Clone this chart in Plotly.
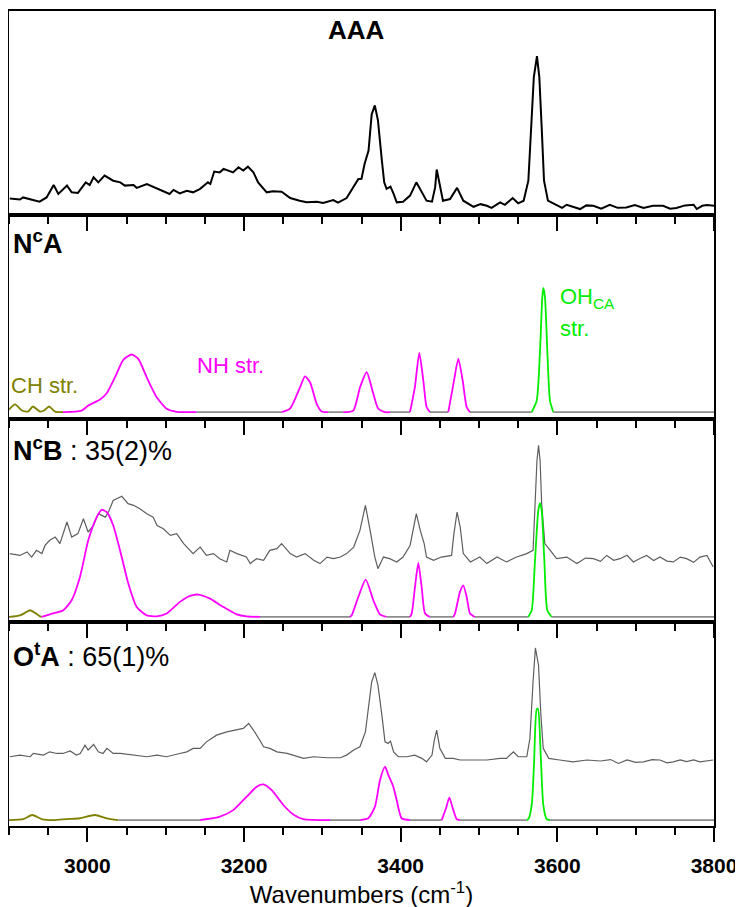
import plotly.graph_objects as go
from plotly.subplots import make_subplots

# ---------------- Panel 1: AAA experimental spectrum ----------------
aaa_wn = [2901, 2914, 2918, 2931, 2939, 2948, 2957, 2963, 2974, 2980, 2988, 2998, 3003, 3008, 3014,
          3022, 3033, 3042, 3048, 3059, 3063, 3076, 3088, 3097, 3105, 3110, 3118, 3127, 3135, 3144,
          3154, 3157, 3162, 3169, 3174, 3186, 3193, 3199, 3205, 3212, 3218, 3229, 3237, 3248, 3259,
          3271, 3280, 3293, 3301, 3314, 3320, 3331, 3339, 3346, 3350, 3354, 3359, 3363, 3367, 3371,
          3376, 3379, 3382, 3387, 3391, 3395, 3403, 3412, 3420, 3427, 3433, 3440, 3444, 3446, 3449,
          3454, 3463, 3472, 3480, 3493, 3502, 3510, 3516, 3523, 3527, 3533, 3543, 3550, 3557, 3563,
          3567, 3570, 3574, 3577, 3580, 3583, 3588, 3599, 3606, 3612, 3620, 3629, 3637, 3646, 3656,
          3667, 3677, 3688, 3699, 3710, 3722, 3735, 3744, 3752, 3763, 3774, 3778, 3785, 3791, 3800]
aaa_int = [8.0, 7.5, 8.5, 7.4, 6.4, 8.5, 14.6, 10.2, 14.3, 11.0, 10.7, 15.9, 14.6, 18.4, 15.9,
           19.2, 16.7, 15.9, 14.3, 14.6, 13.2, 15.1, 13.0, 11.3, 10.2, 12.2, 10.5, 11.8, 11.0, 12.7,
           15.9, 15.1, 21.2, 20.8, 22.5, 20.8, 23.3, 21.7, 23.6, 20.8, 15.9, 11.0, 11.5, 11.3, 8.2,
           6.9, 6.1, 6.4, 5.8, 7.2, 5.9, 8.2, 13.4, 17.6, 17.7, 25.0, 31.5, 49.3, 53.7, 46.3,
           26.6, 15.9, 12.7, 13.8, 10.2, 6.1, 6.4, 9.4, 15.9, 11.0, 6.9, 6.4, 13.4, 22.2, 15.9,
           6.9, 7.7, 13.2, 6.9, 3.9, 5.2, 4.4, 3.4, 4.9, 6.1, 4.9, 8.2, 5.6, 6.9, 16.7,
           43.0, 67.6, 77.8, 67.6, 43.0, 16.7, 6.9, 4.9, 3.4, 4.9, 3.9, 2.8, 4.6, 4.4, 3.0,
           4.9, 3.4, 3.6, 4.8, 3.3, 4.4, 4.4, 3.0, 3.3, 4.6, 4.9, 2.8, 4.4, 4.8, 4.4]

# ---------------- Panel 2: NcA calculated spectrum ----------------
nca_wn = [2900, 2907.7, 2916.6, 2924.3, 2930.6, 2939.6, 2944.7, 2951.1, 2958.7,
          2968.9, 2992.8, 3001.2, 3016.2, 3024.7, 3035.3, 3045.9, 3056.6, 3065.1, 3075.8, 3088.6, 3101.3, 3114.1,
          3139.6,
          3248.1, 3258.7, 3271.5, 3277.9, 3284.3, 3292.8, 3299.2,
          3307.6,
          3326.8, 3339.5, 3348.1, 3356.6, 3365.1, 3371.4, 3380.0,
          3386.4,
          3411.9, 3418.1, 3423.8, 3428.9, 3433.2,
          3437.5,
          3460.8, 3468.1, 3473.6, 3479.2, 3484.3,
          3488.5,
          3567.3, 3573.7, 3577.9, 3580.8, 3582.1, 3584.2, 3587.2, 3590.6,
          3594.9, 3800]
nca_int = [4.4, 6.9, 3.9, 3.4, 5.9, 3.4, 3.9, 5.9, 3.4,
           3.1, 3.9, 6.4, 9.3, 12.4, 20.2, 28.8, 31.4, 29.3, 20.2, 10.4, 4.8, 3.3,
           3.1,
           3.1, 4.8, 15.3, 20.7, 17.8, 7.2, 3.4,
           3.1,
           3.1, 3.9, 15.3, 22.7, 12.1, 4.8, 3.1,
           3.1,
           3.1, 15.3, 32.2, 18.6, 5.5,
           3.1,
           3.1, 18.6, 29.3, 18.6, 5.5,
           3.1,
           3.1, 8.8, 33.3, 59.5, 64.1, 59.5, 33.3, 8.8,
           3.1, 3.1]
nca_band = ["CH"] * 9 + ["NH"] * 13 + ["base"] + ["NH"] * 7 + ["base"] + ["NH"] * 7 + ["base"] + \
           ["NH"] * 5 + ["base"] + ["NH"] * 5 + ["base"] + ["OH"] * 8 + ["base", "base"]

# ---------------- Panel 3: NcB experimental + calculated ----------------
ncb_exp_wn = [2901, 2914, 2923, 2929, 2935, 2942, 2946, 2952, 2959, 2965, 2974, 2980, 2988, 2995, 3001,
              3008, 3014, 3023, 3027, 3033, 3044, 3052, 3059, 3067, 3076, 3084, 3089, 3097, 3106, 3114,
              3123, 3135, 3144, 3152, 3161, 3169, 3178, 3182, 3191, 3203, 3208, 3216, 3225, 3233, 3242,
              3248, 3259, 3267, 3278, 3289, 3297, 3306, 3314, 3323, 3331, 3340, 3348, 3355, 3361, 3367,
              3371, 3378, 3386, 3395, 3403, 3412, 3420, 3425, 3430, 3433, 3442, 3452, 3465, 3468, 3472,
              3476, 3480, 3489, 3501, 3510, 3523, 3535, 3548, 3561, 3569, 3572, 3574, 3576, 3578, 3580,
              3584, 3591, 3599, 3612, 3625, 3636, 3646, 3655, 3663, 3672, 3680, 3689, 3697, 3706, 3714,
              3723, 3731, 3740, 3748, 3757, 3765, 3774, 3782, 3791, 3799]
ncb_exp_int = [33.7, 32.8, 34.5, 32.0, 35.3, 33.7, 37.7, 40.2, 41.8, 38.6, 49.2, 41.8, 43.5, 50.8, 44.3,
               47.5, 53.3, 51.6, 54.1, 59.8, 61.8, 58.2, 57.4, 55.7, 53.3, 51.6, 47.5, 45.9, 42.6, 43.5,
               38.6, 33.7, 36.9, 32.8, 33.7, 31.2, 29.6, 35.3, 33.7, 32.0, 28.8, 31.2, 30.4, 35.3, 36.1,
               38.6, 33.7, 32.0, 33.7, 30.4, 28.8, 32.0, 31.2, 32.0, 33.7, 36.9, 45.1, 57.4, 45.1, 32.0,
               26.3, 32.0, 31.2, 29.6, 32.0, 37.7, 53.3, 45.1, 38.6, 32.0, 30.4, 32.0, 32.8, 43.5, 54.1,
               46.7, 33.7, 29.6, 32.0, 28.8, 32.0, 29.6, 32.0, 33.7, 35.3, 58.2, 79.4, 86.8, 79.4, 58.2,
               38.6, 35.3, 31.2, 32.0, 28.8, 31.5, 31.2, 29.9, 32.8, 30.4, 31.2, 32.9, 29.6, 31.4, 32.8,
               30.3, 32.0, 30.0, 29.6, 32.0, 31.2, 29.4, 32.0, 32.8, 27.1]

ncb_wn = [2900, 2914, 2920.4, 2926.8, 2933.2, 2939.6,
          2941.7, 2952.3, 2969.3, 2980, 2990.6, 3001.2, 3012, 3018.3, 3024.7, 3033.1, 3043.9, 3052.3, 3063,
          3075.8, 3088.6, 3101.3, 3118.3, 3131.1, 3141.7, 3156.6, 3173.6, 3190.7, 3203.4,
          3220.4,
          3335.3, 3337.5, 3345.9, 3355.4, 3365.1, 3373.6,
          3382.2,
          3411.9, 3414.1, 3418.3, 3422.5, 3426.8, 3431.1,
          3437.5,
          3467.2, 3469.4, 3475.7, 3479.9, 3484.3, 3488.5,
          3494.9,
          3562.9, 3567.3, 3571.5, 3575.7, 3577.9, 3580.0, 3583.4, 3587.2,
          3592.8, 3800]
ncb_int = [2.6, 3.4, 4.6, 5.9, 4.6, 2.9,
           2.6, 3.9, 5.9, 10.8, 22.2, 40.2, 51.6, 55.2, 54.1, 47.5, 32.0, 19.0, 7.5,
           3.4, 2.9, 4.3, 10.0, 12.9, 13.6, 11.6, 7.5, 3.9, 2.9,
           2.6,
           2.6, 3.4, 12.4, 20.9, 10.8, 3.9,
           2.6,
           2.6, 4.3, 17.3, 29.1, 17.3, 4.3,
           2.6,
           2.6, 4.3, 14.9, 18.1, 12.4, 4.3,
           2.6,
           2.6, 5.9, 30.4, 54.9, 58.5, 54.9, 30.4, 5.9,
           2.6, 2.6]
ncb_band = ["CH"] * 6 + ["NH"] * 23 + ["base"] + ["NH"] * 6 + ["base"] + ["NH"] * 6 + ["base"] + \
           ["NH"] * 6 + ["base"] + ["OH"] * 8 + ["base", "base"]

# ---------------- Panel 4: OtA experimental + calculated ----------------
ota_exp_wn = [2901, 2914, 2927, 2931, 2944, 2952, 2961, 2969, 2978, 2986, 2991, 2997, 3001, 3008, 3014,
              3020, 3025, 3033, 3042, 3059, 3076, 3089, 3101, 3118, 3127, 3135, 3144, 3152, 3165, 3178,
              3191, 3199, 3206, 3212, 3220, 3225, 3233, 3242, 3255, 3263, 3276, 3289, 3306, 3323, 3331,
              3340, 3348, 3355, 3359, 3363, 3367, 3371, 3376, 3380, 3384, 3387, 3391, 3397, 3408, 3418,
              3427, 3433, 3440, 3443, 3446, 3450, 3457, 3467, 3476, 3493, 3510, 3527, 3535, 3544, 3550,
              3561, 3565, 3569, 3572, 3576, 3579, 3582, 3589, 3603, 3620, 3638, 3655, 3668, 3678, 3689,
              3700, 3710, 3721, 3731, 3740, 3748, 3757, 3765, 3774, 3782, 3790, 3799]
ota_exp_int = [34.0, 34.8, 34.0, 35.6, 34.8, 36.4, 35.6, 35.6, 36.8, 34.8, 35.6, 39.7, 37.3, 40.0, 36.4,
               35.6, 38.1, 35.6, 35.6, 34.8, 34.0, 34.8, 34.0, 35.6, 36.4, 38.1, 38.1, 41.3, 44.6, 46.2,
               47.1, 47.9, 50.3, 47.1, 42.2, 38.9, 38.1, 36.4, 35.6, 34.8, 33.2, 34.0, 33.5, 33.5, 34.8,
               37.3, 38.9, 46.2, 57.7, 70.7, 75.3, 69.1, 54.4, 41.3, 40.5, 41.7, 36.4, 34.0, 34.0, 34.8,
               33.2, 31.5, 34.8, 42.2, 47.1, 38.1, 33.2, 33.2, 32.4, 32.4, 32.4, 33.2, 33.2, 36.4, 34.0,
               34.0, 43.0, 70.7, 87.4, 78.9, 54.4, 38.1, 33.2, 32.4, 31.5, 32.4, 31.9, 32.6, 30.7, 32.4,
               31.2, 31.5, 32.6, 32.4, 31.0, 31.5, 32.4, 31.6, 32.4, 31.5, 32.0, 32.4]

ota_wn = [2900, 2918.3, 2929.7, 2941.7, 2956.6, 2973.7, 2990.6, 3009.8, 3024.7,
          3039.5,
          3143.8, 3169.4, 3186.3, 3203.4, 3216.2, 3224.6, 3235.4, 3250.2, 3262.9, 3275.7,
          3309.8,
          3348.1, 3358.7, 3367.2, 3373.6, 3380.0, 3384.3, 3390.6, 3394.9, 3401.3,
          3411.9,
          3452.4, 3457.9, 3462.1, 3467.2, 3471.5,
          3475.7,
          3560.9, 3563.0, 3567.3, 3570.2, 3573.7, 3575.3, 3578.8, 3582.1, 3586.4,
          3590.6, 3800]
ota_int = [2.9, 3.4, 5.4, 3.4, 2.9, 3.4, 3.8, 5.4, 3.8,
           2.9,
           2.9, 4.6, 7.8, 14.4, 19.3, 20.4, 17.6, 10.3, 5.7, 3.4,
           2.9,
           2.9, 3.8, 9.5, 22.5, 29.1, 25.0, 19.3, 12.7, 3.8,
           2.9,
           2.9, 8.7, 13.9, 7.8, 3.4,
           2.9,
           2.9, 3.4, 10.3, 29.9, 57.4, 57.4, 34.8, 10.3, 3.4,
           2.9, 2.9]
ota_band = ["CH"] * 9 + ["base"] + ["NH"] * 10 + ["base"] + ["NH"] * 9 + ["base"] + \
           ["NH"] * 5 + ["base"] + ["OH"] * 9 + ["base", "base"]

# ---------------- styling ----------------
FONT = "Arial, Liberation Sans, sans-serif"
BAND_COLORS = {"CH": "#808000", "NH": "#FF00FF", "OH": "#00EE00", "base": "#8C8C8C"}
EXP_GREY = "#5E5E5E"

fig = make_subplots(rows=4, cols=1, shared_xaxes=True, vertical_spacing=0)


def add_calc(wn, inten, band, row):
    # split into contiguous same-colour runs; segment i->i+1 takes colour of point i
    n = len(wn)
    start = 0
    for i in range(1, n):
        if i == n - 1 or band[i] != band[start]:
            xs = wn[start:i + 1]
            ys = inten[start:i + 1]
            fig.add_trace(go.Scatter(x=xs, y=ys, mode="lines",
                                     line=dict(color=BAND_COLORS[band[start]], width=1.8,
                                               shape="spline", smoothing=0.6),
                                     hoverinfo="skip"), row=row, col=1)
            start = i


fig.add_trace(go.Scatter(x=aaa_wn, y=aaa_int, mode="lines",
                         line=dict(color="black", width=2)), row=1, col=1)
add_calc(nca_wn, nca_int, nca_band, 2)
fig.add_trace(go.Scatter(x=ncb_exp_wn, y=ncb_exp_int, mode="lines",
                         line=dict(color=EXP_GREY, width=1.2)), row=3, col=1)
add_calc(ncb_wn, ncb_int, ncb_band, 3)
fig.add_trace(go.Scatter(x=ota_exp_wn, y=ota_exp_int, mode="lines",
                         line=dict(color=EXP_GREY, width=1.2)), row=4, col=1)
add_calc(ota_wn, ota_int, ota_band, 4)

for r in range(1, 5):
    fig.update_xaxes(range=[2900, 3800], tick0=3000, dtick=200, ticks="outside", ticklen=14,
                     tickwidth=1.5, tickcolor="black", showline=True, linecolor="black",
                     linewidth=2, mirror=True, showgrid=False, zeroline=False,
                     minor=dict(tick0=2900, dtick=50, ticks="outside", ticklen=7, tickwidth=1.5,
                                tickcolor="black", showgrid=False),
                     row=r, col=1)
    fig.update_yaxes(range=[0, 100], showticklabels=False, ticks="", showline=True,
                     linecolor="black", linewidth=2, mirror=True, showgrid=False,
                     zeroline=False, row=r, col=1)

fig.update_xaxes(showticklabels=True, ticklabelstandoff=6,
                 tickfont=dict(family=FONT, size=21, color="black", weight="bold"),
                 title=dict(text="Wavenumbers (cm<sup>-1</sup>)", standoff=10,
                            font=dict(family=FONT, size=24, color="black")),
                 row=4, col=1)

ann = []


def label(text, x, y, xref, yref, size, color="black", xanchor="left"):
    ann.append(dict(text=text, x=x, y=y, xref=xref, yref=yref, showarrow=False,
                    xanchor=xanchor, yanchor="middle",
                    font=dict(family=FONT, size=size, color=color)))


label("<b>AAA</b>", 3344, 90.6, "x", "y", 26, xanchor="center")
label("<b>N<sup>c</sup>A</b>", 2903, 86.5, "x2", "y2", 27)
label("<b>N<sup>c</sup>B</b> : 35(2)%", 2903, 85.0, "x3", "y3", 27)
label("<b>O<sup>t</sup>A</b> : 65(1)%", 2903, 84.0, "x4", "y4", 27)
label("CH str.", 2900.5, 16.2, "x2", "y2", 22, color="#808000")
label("NH str.", 3137, 26.0, "x2", "y2", 22, color="#FF00FF")
label("OH<sub>CA</sub>", 3601, 59.0, "x2", "y2", 22, color="#00EE00")
label("str.", 3601, 44.1, "x2", "y2", 22, color="#00EE00")

# page body adds an 8px offset, so margins are reduced accordingly
fig.update_layout(width=743, height=907, margin=dict(l=1, r=37, t=3, b=89),
                  paper_bgcolor="white", plot_bgcolor="rgba(0,0,0,0)",
                  showlegend=False, annotations=ann,
                  font=dict(family=FONT, color="black"))

fig.write_html("out.html")
